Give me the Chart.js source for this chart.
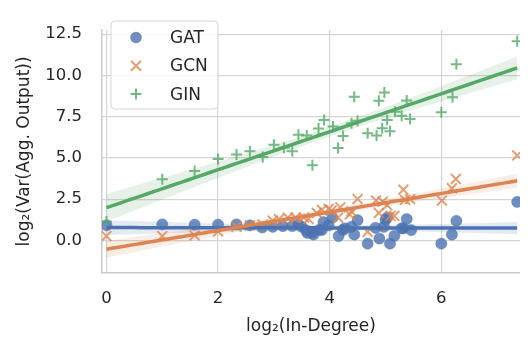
<!DOCTYPE html>
<html>
<head>
<meta charset="utf-8">
<script src="https://cdn.jsdelivr.net/npm/chart.js@4.4.1/dist/chart.umd.min.js"></script>
<style>
  html, body { margin: 0; padding: 0; background: #fff; }
</style>
</head>
<body>
<canvas id="chart" width="529" height="339"></canvas>
<script>
// series names and points (log2 in-degree, log2 variance)
const seriesNames = ["GAT", "GCN", "GIN"];

const gatX = [0, 1.0, 1.58, 2.0, 2.33, 2.57, 2.79, 2.98, 3.16, 3.33, 3.44, 3.5, 3.58, 3.6, 3.68, 3.71, 3.81, 3.86, 3.89, 3.98,
              4.05, 4.16, 4.24, 4.27, 4.39, 4.44, 4.5, 4.68, 4.82, 4.89, 4.97, 5.0, 5.03, 5.08, 5.16, 5.29, 5.32, 5.38, 5.46,
              6.0, 6.19, 6.27, 7.36];
const gatY = [0.91, 0.97, 0.95, 0.95, 0.97, 0.91, 0.78, 0.82, 0.86, 0.86, 0.95, 0.82, 0.6, 0.45, 0.45, 0.35, 0.63, 0.63, 1.1, 0.91,
              1.38, 0.26, 0.63, 0.73, 0.82, 0.35, 1.22, -0.2, 0.76, 0.11, 0.82, 1.25, 1.38, -0.2, 0.28, 0.73, 0.73, 1.29, 0.62,
              -0.2, 0.35, 1.18, 2.33];

const gcnX = [0, 1.0, 1.58, 2.0, 2.33, 2.57, 2.8, 2.98, 3.09, 3.25, 3.39, 3.54, 3.62, 3.77, 3.86, 3.98, 4.03, 4.15, 4.19,
              4.36, 4.39, 4.5, 4.68, 4.83, 4.88, 4.95, 5.03, 5.09, 5.16, 5.32, 5.35, 5.44, 6.01, 6.19, 6.26, 7.36];
const gcnY = [0.26, 0.26, 0.3, 0.54, 0.82, 0.91, 0.95, 1.2, 1.29, 1.38, 1.38, 1.38, 1.3, 1.66, 1.85, 1.9, 1.8, 1.38, 2.0,
              1.57, 1.75, 2.5, 0.52, 2.41, 1.66, 2.35, 2.13, 1.48, 1.48, 3.07, 2.45, 2.5, 2.41, 3.16, 3.72, 5.15];

const ginX = [0, 1.0, 1.58, 2.0, 2.33, 2.57, 2.8, 3.0, 3.18, 3.33, 3.44, 3.59, 3.69, 3.8, 3.9, 4.06, 4.15, 4.24,
              4.39, 4.44, 4.5, 4.68, 4.84, 4.88, 4.94, 4.98, 5.03, 5.08, 5.17, 5.29, 5.38, 5.44, 6.0, 6.2, 6.27, 7.36];
const ginY = [1.15, 3.7, 4.2, 4.93, 5.21, 5.4, 5.06, 5.8, 5.62, 5.4, 6.4, 6.36, 4.56, 6.78, 7.3, 6.9, 5.6, 6.33,
              7.1, 8.7, 7.25, 6.5, 6.36, 8.46, 6.8, 8.97, 7.3, 6.61, 7.8, 7.55, 8.48, 7.36, 7.76, 8.67, 10.67, 12.07];

const xTicks = [0, 2, 4, 6];
const yTicks = [0, 2.5, 5, 7.5, 10, 12.5];

const colores = ["#4C72B0", "#DD8452", "#55A868"];
const estilos = ["circle", "crossRot", "cross"];
const textColor = "#262626";
const fuente = "'DejaVu Sans', sans-serif";

function rgba(hex, a) {
  const n = parseInt(hex.slice(1), 16);
  return `rgba(${(n >> 16) & 255}, ${(n >> 8) & 255}, ${n & 255}, ${a})`;
}

// least squares fit + 95% band for the mean
function ajuste(xs, ys) {
  const n = xs.length;
  const mx = xs.reduce((s, v) => s + v, 0) / n;
  const my = ys.reduce((s, v) => s + v, 0) / n;
  let sxx = 0, sxy = 0;
  for (let i = 0; i < n; i++) {
    sxx += (xs[i] - mx) ** 2;
    sxy += (xs[i] - mx) * (ys[i] - my);
  }
  const b = sxy / sxx;
  const a = my - b * mx;
  let sse = 0;
  for (let i = 0; i < n; i++) sse += (ys[i] - a - b * xs[i]) ** 2;
  const s = Math.sqrt(sse / (n - 2));
  const t = 2.03;
  const x0 = Math.min(...xs), x1 = Math.max(...xs);
  const linea = [], bajo = [], alto = [];
  for (let i = 0; i <= 60; i++) {
    const x = x0 + (x1 - x0) * i / 60;
    const y = a + b * x;
    const e = t * s * Math.sqrt(1 / n + (x - mx) ** 2 / sxx);
    linea.push({ x, y });
    bajo.push({ x, y: y - e });
    alto.push({ x, y: y + e });
  }
  return { linea, bajo, alto };
}

const series = [[gatX, gatY], [gcnX, gcnY], [ginX, ginY]];
const datasets = [];

series.forEach(([xs, ys], i) => {
  const c = colores[i];
  const fit = ajuste(xs, ys);
  const base = 9 - i * 2;
  datasets.push({
    type: "scatter",
    label: seriesNames[i],
    data: xs.map((x, k) => ({ x, y: ys[k] })),
    pointStyle: estilos[i],
    pointRadius: i === 0 ? 5.6 : (i === 1 ? 7 : 5.5),
    pointBackgroundColor: rgba(c, 0.8),
    pointBorderColor: rgba(c, 0.8),
    pointBorderWidth: i === 0 ? 0.5 : 2,
    order: base
  });
  datasets.push({
    type: "line",
    data: fit.bajo,
    borderColor: "rgba(0,0,0,0)",
    borderWidth: 0,
    pointRadius: 0,
    fill: false,
    order: base - 1
  });
  datasets.push({
    type: "line",
    data: fit.alto,
    borderColor: "rgba(0,0,0,0)",
    borderWidth: 0,
    pointRadius: 0,
    backgroundColor: rgba(c, 0.15),
    fill: "-1",
    order: base - 1
  });
  datasets.push({
    type: "line",
    data: fit.linea,
    borderColor: c,
    borderWidth: 3.5,
    pointRadius: 0,
    fill: false,
    order: 3 - i
  });
});

// legend box inside the plot
const leyenda = {
  id: "leyenda",
  afterDraw(chart) {
    const ctx = chart.ctx;
    ctx.save();
    const bx = 111, by = 21, bw = 107, bh = 88, r = 4;
    ctx.beginPath();
    ctx.moveTo(bx + r, by);
    ctx.arcTo(bx + bw, by, bx + bw, by + bh, r);
    ctx.arcTo(bx + bw, by + bh, bx, by + bh, r);
    ctx.arcTo(bx, by + bh, bx, by, r);
    ctx.arcTo(bx, by, bx + bw, by, r);
    ctx.closePath();
    ctx.fillStyle = "rgba(255,255,255,0.8)";
    ctx.fill();
    ctx.strokeStyle = "#d6d6d6";
    ctx.lineWidth = 1;
    ctx.stroke();

    seriesNames.forEach((name, i) => {
      const y = 37.5 + i * 28.3;
      const mx = 136;
      const c = rgba(colores[i], 0.8);
      ctx.fillStyle = c;
      ctx.strokeStyle = c;
      ctx.lineWidth = 2;
      ctx.beginPath();
      if (i === 0) {
        ctx.arc(mx, y, 5.8, 0, Math.PI * 2);
        ctx.fill();
      } else if (i === 1) {
        ctx.moveTo(mx - 5, y - 5); ctx.lineTo(mx + 5, y + 5);
        ctx.moveTo(mx - 5, y + 5); ctx.lineTo(mx + 5, y - 5);
        ctx.stroke();
      } else {
        ctx.moveTo(mx - 5.5, y); ctx.lineTo(mx + 5.5, y);
        ctx.moveTo(mx, y - 5.5); ctx.lineTo(mx, y + 5.5);
        ctx.stroke();
      }
      ctx.fillStyle = textColor;
      ctx.font = "17px " + fuente;
      ctx.textBaseline = "middle";
      ctx.textAlign = "left";
      ctx.fillText(name, 170, y + 1);
    });
    ctx.restore();
  }
};

const canvas = document.getElementById("chart").getContext("2d");

const chart = new Chart(canvas, {
  type: "scatter",
  data: { datasets },
  options: {
    responsive: false,
    animation: false,
    layout: { padding: { top: 10, right: 0, left: 0, bottom: 0 } },
    plugins: { legend: { display: false }, tooltip: { enabled: false } },
    scales: {
      x: {
        type: "linear",
        min: -0.08,
        max: 7.41,
        afterBuildTicks: (s) => { s.ticks = xTicks.map(v => ({ value: v })); },
        afterFit: (s) => { s.height = 66; },
        grid: { color: "#d5d5d5", lineWidth: 1.2, drawTicks: false },
        border: { display: true, color: "#cccccc", width: 1.5 },
        ticks: { color: textColor, font: { family: fuente, size: 16.5 }, padding: 16, callback: v => v },
        title: {
          display: true,
          text: "log₂(In-Degree)",
          color: textColor,
          font: { family: fuente, size: 17 },
          padding: { top: 0, bottom: 2 }
        }
      },
      y: {
        type: "linear",
        min: -1.98,
        max: 12.76,
        afterBuildTicks: (s) => { s.ticks = yTicks.map(v => ({ value: v })); },
        afterFit: (s) => { s.width = 102; },
        grid: { color: "#d5d5d5", lineWidth: 1.2, drawTicks: false },
        border: { display: true, color: "#cccccc", width: 1.5 },
        ticks: { color: textColor, font: { family: fuente, size: 16.5 }, padding: 20, callback: v => v.toFixed(1) },
        title: {
          display: true,
          text: "log₂(Var(Agg. Output))",
          color: textColor,
          font: { family: fuente, size: 17 },
          padding: { top: 14, bottom: 0 }
        }
      }
    }
  },
  plugins: [leyenda]
});
</script>
</body>
</html>
